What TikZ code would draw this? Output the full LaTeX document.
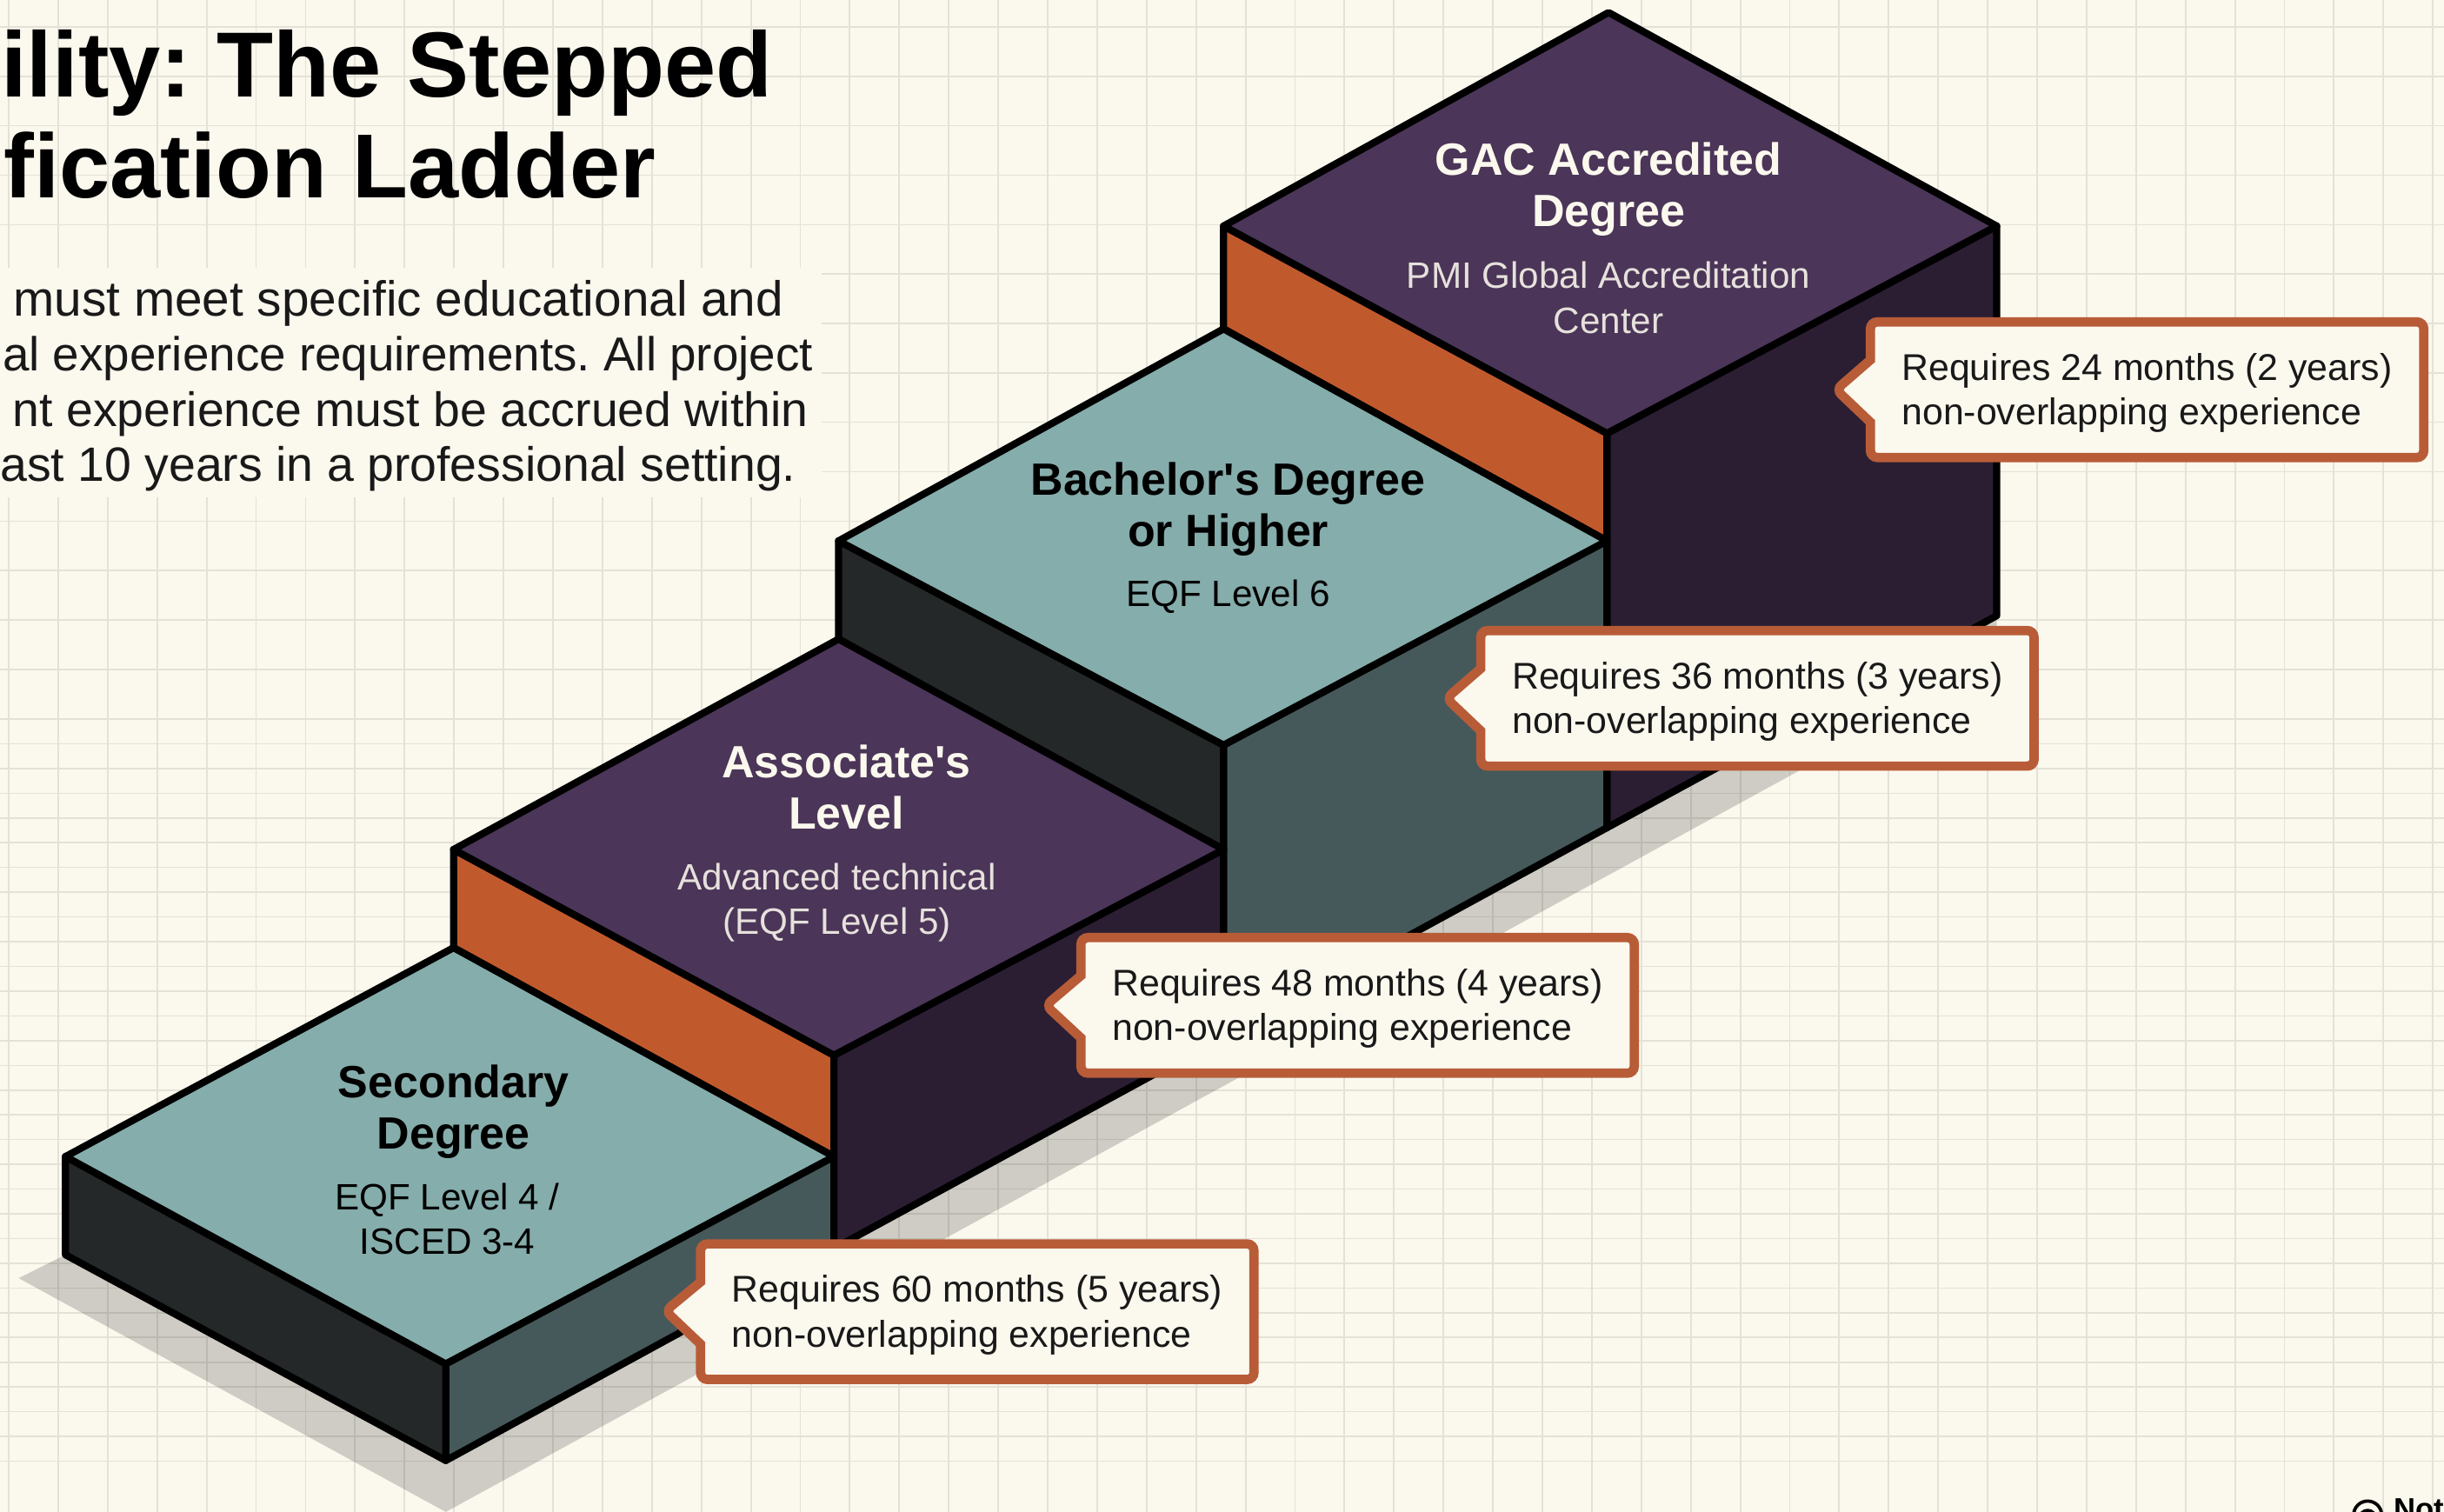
\documentclass[tikz,border=0pt]{standalone}
\usepackage{fontspec}
\setmainfont{Liberation Sans}
\usetikzlibrary{shapes.callouts}
\frenchspacing
\definecolor{paper}{HTML}{FBF8EE}
\definecolor{gridline}{HTML}{E4E2D7}
\definecolor{tealtop}{HTML}{85ADAB}
\definecolor{tealside}{HTML}{45595A}
\definecolor{darkside}{HTML}{252828}
\definecolor{plumtop}{HTML}{4B3558}
\definecolor{plumside}{HTML}{2B1E33}
\definecolor{rust}{HTML}{C05A2D}
\definecolor{rustline}{HTML}{B85C38}
\tikzset{
    face/.style = {draw=black, line width=2.6pt, line join=round},
    head/.style = {font=\fontsize{16.5}{18.7}\selectfont\bfseries, align=center},
    sub/.style = {font=\fontsize{13.4}{16.4}\selectfont, align=center},
    titleline/.style = {font=\fontsize{#1}{38}\selectfont\bfseries, anchor=base east, inner sep=0pt, text=black},
    bodyline/.style = {font=\fontsize{#1}{20}\selectfont, anchor=base east, inner sep=0pt, text=black!90},
    need/.style = {rectangle callout, draw=rustline, fill=paper, line width=3.4pt, rounded corners=2.5pt,
        minimum width=355*0.02cm, minimum height=87*0.02cm, inner sep=0pt,
        callout pointer width=0.8cm, align=left, text=black!90, font=\fontsize{13.6}{16.4}\selectfont},
}
\newcommand{\needtext}[1]{\rule{0pt}{12.2pt}Requires #1\\non-overlapping experience}
\begin{document}
\begin{tikzpicture}[x=0.02cm, y=-0.02cm]
    \useasboundingbox (0,0) rectangle (1568,970);
    \clip (0,0) rectangle (1568,970);
    \fill[paper] (0,0) rectangle (1568,970);
    \foreach \k in {0,...,49}
        \draw[gridline, line width=0.6pt] (5.6+\k*31.74,0) -- (5.6+\k*31.74,970);
    \foreach \k in {0,...,14}
        \draw[gridline, line width=0.5pt] (0,17.3+\k*31.7) -- (1568,17.3+\k*31.7);
    \foreach \k in {0,...,30}
        \draw[gridline, line width=0.5pt] (0,461.3+\k*15.87) -- (1568,461.3+\k*15.87);
    \fill[paper] (0,172) rectangle (527,319);

    % corners of the steps
    \coordinate (a1) at (42,742);
    \coordinate (b1) at (291,608);
    \coordinate (c1) at (535,742);
    \coordinate (d1) at (286,875);
    \coordinate (e1) at (42,805);
    \coordinate (f1) at (286,937);
    \coordinate (g1) at (535,801);
    \coordinate (a2) at (291,545);
    \coordinate (b2) at (538,410);
    \coordinate (c2) at (785,545);
    \coordinate (d2) at (535,677);
    \coordinate (g2) at (785,665);
    \coordinate (a3) at (538,347);
    \coordinate (b3) at (785,211);
    \coordinate (c3) at (1031,347);
    \coordinate (d3) at (785,478);
    \coordinate (g3) at (1031,531);
    \coordinate (a4) at (785,145);
    \coordinate (b4) at (1032,8);
    \coordinate (c4) at (1281,145);
    \coordinate (d4) at (1031,278);
    \coordinate (g4) at (1281,395);

    \fill[black, opacity=0.175] (12,820) -- (e1) -- (g4) -- (1281,425) -- (286,970) -- cycle;

    \draw[face, fill=plumside] (d4) -- (c4) -- (g4) -- (g3) -- cycle;
    \draw[face, fill=rust] (a4) -- (d4) -- (c3) -- (b3) -- cycle;
    \draw[face, fill=plumtop] (a4) -- (b4) -- (c4) -- (d4) -- cycle;

    \draw[face, fill=tealside] (d3) -- (c3) -- (g3) -- (g2) -- cycle;
    \draw[face, fill=darkside] (a3) -- (d3) -- (c2) -- (b2) -- cycle;
    \draw[face, fill=tealtop] (a3) -- (b3) -- (c3) -- (d3) -- cycle;

    \draw[face, fill=plumside] (d2) -- (c2) -- (g2) -- (g1) -- cycle;
    \draw[face, fill=rust] (a2) -- (d2) -- (c1) -- (b1) -- cycle;
    \draw[face, fill=plumtop] (a2) -- (b2) -- (c2) -- (d2) -- cycle;

    \draw[face, fill=tealside] (d1) -- (c1) -- (g1) -- (f1) -- cycle;
    \draw[face, fill=darkside] (a1) -- (d1) -- (f1) -- (e1) -- cycle;
    \draw[face, fill=tealtop] (a1) -- (b1) -- (c1) -- (d1) -- cycle;

    \node[head] (secondary) at (291,713) {Secondary\\Degree};
    \node[sub] (secondarysub) at (287,782) {EQF Level 4 /\\ISCED 3-4};
    \node[head, text=paper] (associate) at (543,505) {Associate\textquotesingle s\\Level};
    \node[sub, text=paper!88!plumtop] (associatesub) at (537,579) {Advanced technical\\(EQF Level 5)};
    \node[head] (bachelor) at (788,326.5) {Bachelor\textquotesingle s Degree\\or Higher};
    \node[sub] (bachelorsub) at (788,383) {EQF Level 6};
    \node[head, text=paper] (gac) at (1032,121.5) {GAC Accredited\\Degree};
    \node[sub, text=paper!88!plumtop] (gacsub) at (1032,191) {PMI Global Accreditation\\Center};

    \coordinate (tip1) at (427,841);
    \coordinate (tip2) at (671,645);
    \coordinate (tip3) at (928,448);
    \coordinate (tip4) at (1178,250);
    \node[need, callout absolute pointer=(tip1)] (need1) at (627,841.5) {\needtext{60 months (5 years)}};
    \node[need, callout absolute pointer=(tip2)] (need2) at (871,645) {\needtext{48 months (4 years)}};
    \node[need, callout absolute pointer=(tip3)] (need3) at (1127.5,448) {\needtext{36 months (3 years)}};
    \node[need, callout absolute pointer=(tip4)] (need4) at (1377.5,250) {\needtext{24 months (2 years)}};

    \node[titleline=33.8] (title1) at (496,62) {ility: The Stepped};
    \node[titleline=33.2] (title2) at (421,127) {fication Ladder};
    \node[bodyline=18] (body1) at (503,203) {must meet specific educational and};
    \node[bodyline=17.4] (body2) at (522,238) {al experience requirements. All project};
    \node[bodyline=17.6] (body3) at (519,273.5) {nt experience must be accrued within};
    \node[bodyline=17.6] (body4) at (511,309) {ast 10 years in a professional setting.};

    \draw[black, line width=1.2pt] (1519,972) circle [radius=9];
    \draw[black, line width=1.2pt] (1519,974) circle [radius=5];
    \node[anchor=base west, inner sep=0pt, font=\fontsize{11}{13}\selectfont\bfseries] (mark) at (1535.5,975) {Not};
\end{tikzpicture}
\end{document}
